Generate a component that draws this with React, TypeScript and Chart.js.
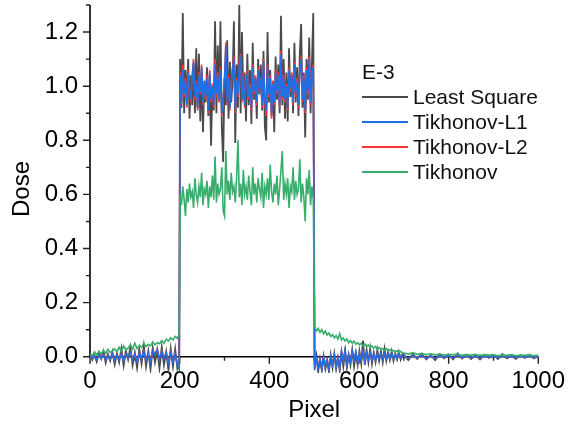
import React, { useEffect, useRef } from "react";
import { Chart, registerables } from "chart.js";

Chart.register(...registerables);

const FONT = "'Liberation Sans', Arial, Helvetica, sans-serif";

// x positions (pixel index) shared by every series
const PIXEL = [
  0, 5, 10, 15, 20, 25, 30, 35, 40, 45, 50, 55, 60, 65, 70, 75, 80, 85, 90, 95,
  100, 105, 110, 115, 120, 125, 130, 135, 140, 145, 150, 155, 160, 165, 170, 175, 180, 185, 190, 195, 199,
  201, 204, 207, 210, 213, 216, 219, 222, 225, 228,
  231, 234, 237, 240, 243, 246, 249, 252, 255, 258,
  261, 264, 267, 270, 273, 276, 279, 282, 285, 288,
  291, 294, 297, 300, 303, 306, 309, 312, 315, 318,
  321, 324, 327, 330, 333, 336, 339, 342, 345, 348,
  351, 354, 357, 360, 363, 366, 369, 372, 375, 378,
  381, 384, 387, 390, 393, 396, 399, 402, 405, 408,
  411, 414, 417, 420, 423, 426, 429, 432, 435, 438,
  441, 444, 447, 450, 453, 456, 459, 462, 465, 468,
  471, 474, 477, 480, 483, 486, 489, 492, 495, 498,
  501, 505, 509, 513, 517, 521, 525, 529, 533, 537,
  541, 545, 549, 553, 557, 561, 565, 569, 573, 577,
  581, 585, 589, 593, 597, 601, 605, 609, 613, 617,
  621, 625, 629, 633, 637, 641, 645, 649, 653, 657,
  661, 665, 669, 673, 677, 681, 685, 689, 693, 697,
  700, 710, 720, 730, 740, 750, 760, 770, 780, 790, 800, 810, 820, 830, 840, 850,
  860, 870, 880, 890, 900, 910, 920, 930, 940, 950, 960, 970, 980, 990, 1000,
];

const LEAST_SQUARE = [
  0.01, -0.012, 0.006, -0.018, 0.014, -0.008, 0.02, -0.022, 0.01, -0.015,
  0.018, -0.028, 0.012, -0.02, 0.03, -0.032, 0.022, -0.01, 0.035, -0.03,
  0.015, -0.04, 0.028, -0.025, 0.04, -0.035, 0.02, -0.045, 0.032, -0.02,
  0.025, -0.042, 0.035, -0.03, 0.018, -0.048, 0.03, -0.035, 0.028, -0.045, -0.03,
  1.1, 0.92, 1.27, 0.9, 1.06, 0.95, 1.1, 0.88, 1.04, 0.93,
  1.08, 0.9, 1.14, 0.92, 1.12, 0.87, 1.05, 0.83, 1.02, 0.94,
  1.07, 0.89, 1.04, 0.78, 1.0, 0.91, 1.24, 0.9, 1.15, 0.96,
  1.24, 0.85, 0.72, 1.03, 0.93, 1.17, 0.88, 1.09, 0.94, 1.02,
  1.24, 0.79, 1.08, 0.92, 1.3, 0.9, 1.2, 0.95, 1.05, 0.87,
  1.12, 0.93, 1.06, 0.86, 1.16, 0.95, 1.03, 0.88, 1.1, 0.97,
  1.08, 0.91, 1.13, 0.85, 0.8, 1.2, 0.94, 1.06, 0.89, 1.02,
  0.83, 1.11, 0.95, 1.08, 0.9, 1.26, 0.93, 1.1, 0.88, 1.05,
  0.87, 1.14, 0.96, 1.04, 0.9, 1.16, 0.94, 1.07, 0.89, 1.12,
  1.23, 0.92, 1.05, 0.81, 1.1, 0.95, 1.18, 0.9, 1.08, 1.27,
  -0.03, 0.005, -0.055, -0.01, -0.05, 0.0, -0.045, -0.015, -0.055, 0.005,
  -0.04, 0.01, -0.045, -0.005, -0.05, 0.015, -0.035, 0.02, -0.04, 0.005,
  -0.03, 0.025, -0.035, 0.01, -0.03, 0.02, -0.025, 0.06, -0.03, 0.025,
  -0.02, 0.03, -0.025, 0.015, -0.02, 0.025, -0.015, 0.02, -0.02, 0.03,
  -0.015, 0.018, -0.012, 0.02, -0.015, 0.012, -0.01, 0.018, -0.01, 0.01,
  0.008, -0.012, 0.01, -0.008, 0.012, -0.01, 0.006, -0.012, 0.01, -0.006,
  0.008, -0.01, 0.012, -0.006, 0.008, -0.008, 0.006, -0.01, 0.008, -0.004,
  0.006, -0.008, 0.01, -0.006, 0.004, -0.008, 0.006, -0.004, 0.008, -0.006, 0.004,
];

const TIKHONOV_L1 = [
  0.005, -0.006, 0.004, -0.01, 0.008, -0.004, 0.006, -0.012, 0.004, -0.008,
  0.01, -0.014, 0.006, -0.01, 0.012, -0.016, 0.01, -0.004, 0.016, -0.012,
  0.008, -0.018, 0.014, -0.008, 0.02, -0.012, 0.01, -0.02, 0.022, 0.008,
  0.026, -0.01, 0.02, -0.006, 0.012, -0.024, 0.016, -0.018, 0.01, -0.03, -0.045,
  1.04, 0.94, 1.06, 0.97, 1.02, 0.93, 1.05, 0.99, 0.95, 1.03,
  1.09, 0.96, 1.01, 0.92, 1.04, 0.98, 1.07, 0.94, 1.0, 0.96,
  1.03, 0.91, 1.05, 0.95, 1.0, 0.93, 1.08, 0.97, 1.04, 0.95,
  1.06, 0.9, 0.96, 1.02, 1.15, 0.94, 1.03, 0.92, 1.0, 1.06,
  1.1, 0.91, 1.02, 0.97, 1.08, 1.1, 0.95, 1.04, 0.93, 1.01,
  1.05, 0.96, 1.0, 0.92, 1.07, 0.98, 1.03, 0.94, 1.06, 0.99,
  1.02, 0.93, 1.09, 0.96, 0.91, 1.07, 0.97, 1.03, 0.9, 1.01,
  0.94, 1.05, 0.98, 1.04, 0.93, 1.12, 0.96, 1.03, 0.95, 1.0,
  0.92, 1.06, 0.99, 1.04, 0.94, 1.08, 0.97, 1.02, 0.93, 1.05,
  1.1, 0.95, 1.03, 0.91, 1.06, 0.98, 1.1, 0.94, 1.04, 1.07,
  -0.05, -0.005, -0.04, -0.01, -0.045, 0.005, -0.035, -0.012, -0.048, 0.0,
  -0.03, 0.008, -0.035, -0.005, -0.04, 0.02, -0.015, 0.025, -0.03, 0.008,
  -0.02, 0.022, -0.012, 0.018, -0.025, 0.012, -0.015, 0.02, -0.018, 0.014,
  -0.01, 0.016, -0.014, 0.008, -0.012, 0.012, -0.008, 0.01, -0.012, 0.014,
  -0.006, 0.01, -0.008, 0.012, -0.006, 0.008, -0.005, 0.009, -0.004, 0.006,
  0.004, -0.006, 0.005, -0.004, 0.006, -0.005, 0.003, -0.006, 0.005, -0.003,
  0.004, -0.005, 0.006, -0.003, 0.004, -0.004, 0.003, -0.005, 0.004, -0.002,
  0.003, -0.004, 0.005, -0.003, 0.002, -0.004, 0.003, -0.002, 0.004, -0.003, 0.002,
];

const TIKHONOV_L2 = [
  0.004, -0.008, 0.006, -0.009, 0.007, -0.005, 0.008, -0.01, 0.005, -0.009,
  0.011, -0.012, 0.007, -0.011, 0.013, -0.014, 0.011, -0.005, 0.017, -0.01,
  0.009, -0.016, 0.015, -0.007, 0.021, -0.01, 0.012, -0.018, 0.024, 0.01,
  0.027, -0.008, 0.022, -0.004, 0.014, -0.022, 0.018, -0.016, 0.012, -0.028, -0.042,
  1.05, 0.93, 1.08, 0.96, 1.03, 0.92, 1.06, 0.98, 0.94, 1.04,
  1.1, 0.95, 1.02, 0.91, 1.05, 0.97, 1.08, 0.93, 1.01, 0.95,
  1.04, 0.9, 1.06, 0.94, 1.01, 0.92, 1.1, 0.96, 1.05, 0.94,
  1.07, 0.89, 0.95, 1.03, 1.16, 0.93, 1.04, 0.91, 1.01, 1.07,
  1.11, 0.9, 1.03, 0.96, 1.09, 1.12, 0.94, 1.05, 0.92, 1.02,
  1.06, 0.95, 1.01, 0.91, 1.08, 0.97, 1.04, 0.93, 1.07, 0.98,
  1.03, 0.92, 1.1, 0.95, 0.89, 1.08, 0.96, 1.04, 0.88, 1.02,
  0.93, 1.06, 0.97, 1.05, 0.92, 1.13, 0.95, 1.04, 0.94, 1.01,
  0.91, 1.07, 0.98, 1.05, 0.93, 1.09, 0.96, 1.03, 0.92, 1.06,
  1.11, 0.94, 1.04, 0.9, 1.07, 0.97, 1.11, 0.93, 1.05, 1.08,
  -0.045, -0.008, -0.038, -0.006, -0.042, 0.002, -0.032, -0.01, -0.044, 0.003,
  -0.027, 0.005, -0.032, -0.002, -0.036, 0.018, -0.013, 0.022, -0.027, 0.01,
  -0.018, 0.02, -0.01, 0.016, -0.022, 0.011, -0.013, 0.018, -0.016, 0.012,
  -0.009, 0.014, -0.012, 0.007, -0.01, 0.011, -0.007, 0.009, -0.01, 0.012,
  -0.005, 0.009, -0.007, 0.01, -0.005, 0.007, -0.004, 0.008, -0.003, 0.005,
  0.003, -0.005, 0.004, -0.003, 0.005, -0.004, 0.002, -0.005, 0.004, -0.002,
  0.003, -0.004, 0.005, -0.002, 0.003, -0.003, 0.002, -0.004, 0.003, -0.001,
  0.002, -0.003, 0.004, -0.002, 0.001, -0.003, 0.002, -0.001, 0.003, -0.002, 0.001,
];

const TIKHONOV = [
  0.012, 0.004, 0.018, 0.008, 0.02, 0.01, 0.024, 0.012, 0.028, 0.016,
  0.022, 0.03, 0.018, 0.035, 0.02, 0.04, 0.025, 0.032, 0.045, 0.028,
  0.05, 0.03, 0.042, 0.035, 0.05, 0.038, 0.046, 0.04, 0.055, 0.044,
  0.052, 0.048, 0.06, 0.05, 0.065, 0.058, 0.07, 0.062, 0.075, 0.068, 0.085,
  0.6, 0.56, 0.63, 0.58, 0.52, 0.62, 0.57, 0.64, 0.59, 0.61,
  0.55, 0.66, 0.6, 0.57, 0.63, 0.59, 0.68, 0.56, 0.62, 0.6,
  0.65, 0.55, 0.63, 0.59, 0.67, 0.58, 0.74, 0.57, 0.64, 0.6,
  0.62, 0.7, 0.54, 0.52, 0.76, 0.6, 0.65, 0.58, 0.68, 0.61,
  0.63, 0.57, 0.66, 0.8, 0.59, 0.64, 0.56, 0.69, 0.6, 0.63,
  0.58, 0.67, 0.61, 0.56, 0.7, 0.6, 0.64, 0.57, 0.66, 0.62,
  0.59, 0.68, 0.55, 0.63, 0.6, 0.66, 0.58, 0.71, 0.61, 0.57,
  0.64, 0.6, 0.67, 0.56, 0.62, 0.69, 0.76, 0.58, 0.64, 0.6,
  0.66, 0.55, 0.63, 0.61, 0.7, 0.58, 0.65, 0.6, 0.62, 0.73,
  0.57, 0.64, 0.59, 0.5, 0.66, 0.6, 0.69, 0.56, 0.63, 0.58,
  0.11, 0.095, 0.105, 0.09, 0.1, 0.085, 0.095, 0.08, 0.088, 0.075,
  0.082, 0.07, 0.078, 0.065, 0.085, 0.062, 0.07, 0.058, 0.066, 0.052,
  0.06, 0.05, 0.058, 0.046, 0.052, 0.044, 0.05, 0.04, 0.047, 0.038,
  0.044, 0.034, 0.04, 0.032, 0.038, 0.028, 0.034, 0.026, 0.03, 0.024,
  0.03, 0.022, 0.026, 0.02, 0.024, 0.018, 0.022, 0.016, 0.02, 0.015,
  0.014, 0.01, 0.015, 0.009, 0.012, 0.008, 0.011, 0.007, 0.01, 0.006,
  0.009, 0.007, 0.01, 0.005, 0.008, 0.006, 0.009, 0.005, 0.007, 0.006,
  0.008, 0.004, 0.007, 0.005, 0.008, 0.004, 0.006, 0.005, 0.007, 0.004, 0.006,
];

const SERIES_LABELS = ["Least Square", "Tikhonov-L1", "Tikhonov-L2", "Tikhonov"];
const SERIES_COLORS = ["#4a4a4a", "#1f6fe5", "#ff3535", "#37ae6b"];
const SERIES_WIDTHS = [1.8, 1.6, 1.6, 1.6];
const SERIES_VALUES = [LEAST_SQUARE, TIKHONOV_L1, TIKHONOV_L2, TIKHONOV];
// drawing order: higher = further back
const SERIES_ORDER = [4, 2, 3, 1];

const LEGEND_TITLE = "E-3";
const X_TITLE = "Pixel";
const Y_TITLE = "Dose";

const X_MIN = 0;
const X_MAX = 1000;
const Y_MIN = -0.06;
const Y_MAX = 1.3;
const X_MAJOR = [0, 200, 400, 600, 800, 1000];
const X_MINOR = [100, 300, 500, 700, 900];
const Y_MAJOR = [0, 0.2, 0.4, 0.6, 0.8, 1.0, 1.2];
const Y_MINOR = [0.1, 0.3, 0.5, 0.7, 0.9, 1.1, 1.3];

const axesPlugin = {
  id: "originAxes",
  beforeDatasetsDraw(chart: any) {
    const { ctx, scales } = chart;
    const x = scales.x;
    const y = scales.y;
    const y0 = y.getPixelForValue(0);
    const yTop = y.getPixelForValue(Y_MAX);
    const xl = x.getPixelForValue(X_MIN);
    const xr = x.getPixelForValue(X_MAX);
    ctx.save();
    ctx.strokeStyle = "#000";
    ctx.lineWidth = 1.6;
    ctx.beginPath();
    ctx.moveTo(xl, yTop);
    ctx.lineTo(xl, y0);
    ctx.lineTo(xr, y0);
    ctx.stroke();
    ctx.strokeStyle = "#222";
    ctx.lineWidth = 1.4;
    ctx.beginPath();
    Y_MAJOR.forEach((v) => {
      const p = y.getPixelForValue(v);
      ctx.moveTo(xl - 7, p);
      ctx.lineTo(xl, p);
    });
    Y_MINOR.forEach((v) => {
      const p = y.getPixelForValue(v);
      ctx.moveTo(xl - 4, p);
      ctx.lineTo(xl, p);
    });
    X_MAJOR.forEach((v) => {
      const p = x.getPixelForValue(v);
      ctx.moveTo(p, y0);
      ctx.lineTo(p, y0 + 7);
    });
    X_MINOR.forEach((v) => {
      const p = x.getPixelForValue(v);
      ctx.moveTo(p, y0);
      ctx.lineTo(p, y0 + 4);
    });
    ctx.stroke();
    ctx.restore();
  },
};

export default function App() {
  const canvasRef = useRef<HTMLCanvasElement | null>(null);

  useEffect(() => {
    if (!canvasRef.current) return;
    const datasets = SERIES_LABELS.map((label, i) => ({
      label,
      data: PIXEL.map((px, k) => ({ x: px, y: SERIES_VALUES[i][k] })),
      borderColor: SERIES_COLORS[i],
      backgroundColor: SERIES_COLORS[i],
      borderWidth: SERIES_WIDTHS[i],
      pointRadius: 0,
      tension: 0,
      fill: false,
      order: SERIES_ORDER[i],
    }));

    const chart = new Chart(canvasRef.current, {
      type: "line",
      data: { datasets },
      options: {
        animation: false,
        responsive: false,
        devicePixelRatio: 1,
        layout: { padding: { left: 0, top: 5, right: 32, bottom: 54 } },
        plugins: {
          legend: { display: false },
          tooltip: { enabled: false },
          title: { display: false },
        },
        scales: {
          x: {
            type: "linear",
            position: { y: 0 },
            min: X_MIN,
            max: X_MAX,
            afterBuildTicks: (scale: any) => {
              scale.ticks = X_MAJOR.map((v) => ({ value: v }));
            },
            ticks: {
              font: { family: FONT, size: 24 },
              color: "#000",
              padding: 10,
              maxRotation: 0,
              autoSkip: false,
              callback: (v: any) => String(v),
            },
            grid: { display: false, drawTicks: false },
            border: { display: false },
            title: {
              display: true,
              text: X_TITLE,
              font: { family: FONT, size: 24 },
              color: "#000",
              padding: { top: -10, bottom: 0 },
            },
          },
          y: {
            type: "linear",
            position: "left",
            min: Y_MIN,
            max: Y_MAX,
            afterBuildTicks: (scale: any) => {
              scale.ticks = Y_MAJOR.map((v) => ({ value: v }));
            },
            afterFit: (scale: any) => {
              scale.width = 90;
              scale.paddingTop = 0;
              scale.paddingBottom = 0;
            },
            ticks: {
              font: { family: FONT, size: 24 },
              color: "#000",
              padding: 12,
              autoSkip: false,
              callback: (v: any) => Number(v).toFixed(1),
            },
            grid: { display: false, drawTicks: false },
            border: { display: false },
            title: {
              display: true,
              text: Y_TITLE,
              font: { family: FONT, size: 24 },
              color: "#000",
              padding: { top: 8, bottom: 0 },
            },
          },
        },
      },
      plugins: [axesPlugin],
    });
    return () => chart.destroy();
  }, []);

  return (
    <div
      style={{
        position: "fixed",
        left: 0,
        top: 0,
        width: 575,
        height: 427,
        background: "#fff",
        fontFamily: FONT,
      }}
    >
      <canvas ref={canvasRef} width={575} height={427} style={{ display: "block" }} />
      <div
        style={{
          position: "absolute",
          left: 362,
          top: 59,
          fontSize: 21,
          color: "#111",
          lineHeight: "25px",
        }}
      >
        <div style={{ height: 25 }}>{LEGEND_TITLE}</div>
        {SERIES_LABELS.map((label, i) => (
          <div key={label} style={{ display: "flex", alignItems: "center", height: 25 }}>
            <div style={{ width: 46, height: 2, background: SERIES_COLORS[i], marginRight: 5 }} />
            <span>{label}</span>
          </div>
        ))}
      </div>
    </div>
  );
}
